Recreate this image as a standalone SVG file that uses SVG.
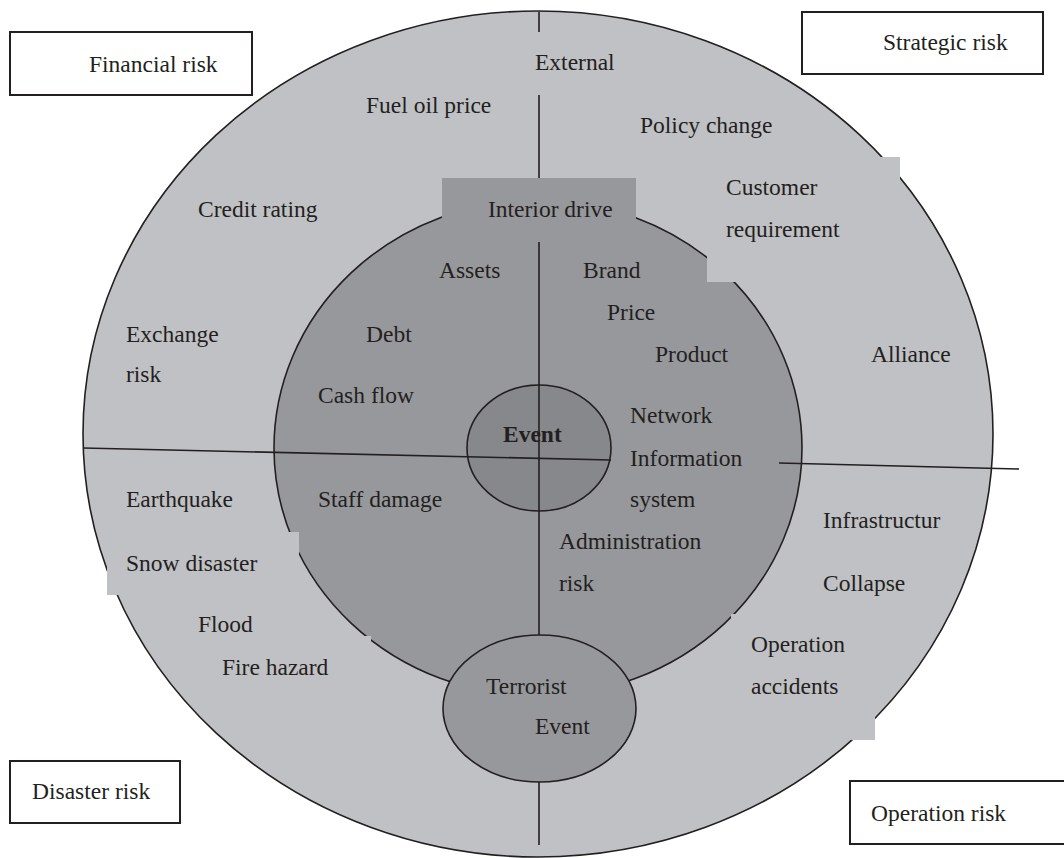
<svg xmlns="http://www.w3.org/2000/svg" width="1064" height="858" viewBox="0 0 1064 858">
<style>
text{font-family:"Liberation Serif","Times New Roman",serif;font-size:23.5px;fill:#231f20}
.b{font-weight:bold}
.ln{stroke:#231f20;stroke-width:1.6;fill:none}
.box{fill:#fff;stroke:#231f20;stroke-width:2}
.outer{fill:#c0c1c5}
.inner{fill:#97989c}
.core{fill:#87888c}
.edge{stroke:#231f20;stroke-width:1.6}
</style>
<rect width="1064" height="858" fill="#fff"/>
<g id="outer-ring"><ellipse class="outer edge" cx="538" cy="434" rx="455" ry="423"/></g>
<g id="inner-ring"><ellipse class="inner edge" cx="538" cy="448" rx="264" ry="248"/></g>
<g id="patches">
<rect class="outer" x="707" y="157" width="193" height="125"/>
<rect class="outer" x="107" y="532" width="192" height="63"/>
<rect class="outer" x="731" y="614" width="144" height="126"/>
<rect class="outer" x="200" y="636" width="171" height="50"/>
</g>
<g id="interior-drive"><rect class="inner" x="442" y="178" width="194" height="64"/><text x="488" y="217">Interior drive</text></g>
<g id="event"><ellipse class="core edge" cx="539" cy="448" rx="72" ry="63"/></g>
<g id="terrorist-event"><ellipse class="inner edge" cx="539.5" cy="708.5" rx="96.5" ry="73.5"/><text x="486" y="694">Terrorist</text><text x="535" y="734">Event</text></g>
<g id="connectors">
<line class="ln" x1="539" y1="12" x2="539" y2="32"/>
<line class="ln" x1="539" y1="95" x2="539" y2="178"/>
<line class="ln" x1="539" y1="242" x2="539" y2="635"/>
<line class="ln" x1="539" y1="782" x2="539" y2="845"/>
<line class="ln" x1="83" y1="448" x2="611" y2="460"/>
<line class="ln" x1="779" y1="463" x2="1019" y2="469"/>
</g>
<g id="event-label"><text class="b" x="503" y="442">Event</text></g>
<g id="financial-risk"><rect class="box" x="10" y="32" width="242" height="63"/><text x="89" y="72">Financial risk</text></g>
<g id="strategic-risk"><rect class="box" x="802" y="12" width="241" height="62"/><text x="883" y="50">Strategic risk</text></g>
<g id="disaster-risk"><rect class="box" x="10" y="761" width="170" height="62"/><text x="32" y="799">Disaster risk</text></g>
<g id="operation-risk"><rect class="box" x="850" y="781" width="220" height="63"/><text x="871" y="821">Operation risk</text></g>
<g id="external"><text x="535" y="70">External</text></g>
<g id="fuel-oil-price"><text x="366" y="113">Fuel oil price</text></g>
<g id="credit-rating"><text x="198" y="217">Credit rating</text></g>
<g id="exchange-risk"><text x="126" y="342">Exchange</text><text x="126" y="382">risk</text></g>
<g id="assets"><text x="439" y="278">Assets</text></g>
<g id="debt"><text x="366" y="342">Debt</text></g>
<g id="cash-flow"><text x="318" y="403">Cash flow</text></g>
<g id="policy-change"><text x="640" y="133">Policy change</text></g>
<g id="customer-requirement"><text x="726" y="195">Customer</text><text x="726" y="237">requirement</text></g>
<g id="brand"><text x="583" y="278">Brand</text></g>
<g id="price"><text x="607" y="320">Price</text></g>
<g id="product"><text x="655" y="362">Product</text></g>
<g id="alliance"><text x="871" y="362">Alliance</text></g>
<g id="network-information-system"><text x="630" y="423">Network</text><text x="630" y="466">Information</text><text x="630" y="507">system</text></g>
<g id="earthquake"><text x="126" y="507">Earthquake</text></g>
<g id="staff-damage"><text x="318" y="507">Staff damage</text></g>
<g id="snow-disaster"><text x="126" y="571">Snow disaster</text></g>
<g id="flood"><text x="198" y="632">Flood</text></g>
<g id="fire-hazard"><text x="222" y="675">Fire hazard</text></g>
<g id="administration-risk"><text x="559" y="549">Administration</text><text x="559" y="591">risk</text></g>
<g id="infrastructure"><text x="823" y="528">Infrastructur</text></g>
<g id="collapse"><text x="823" y="591">Collapse</text></g>
<g id="operation-accidents"><text x="751" y="652">Operation</text><text x="751" y="694">accidents</text></g>
</svg>
